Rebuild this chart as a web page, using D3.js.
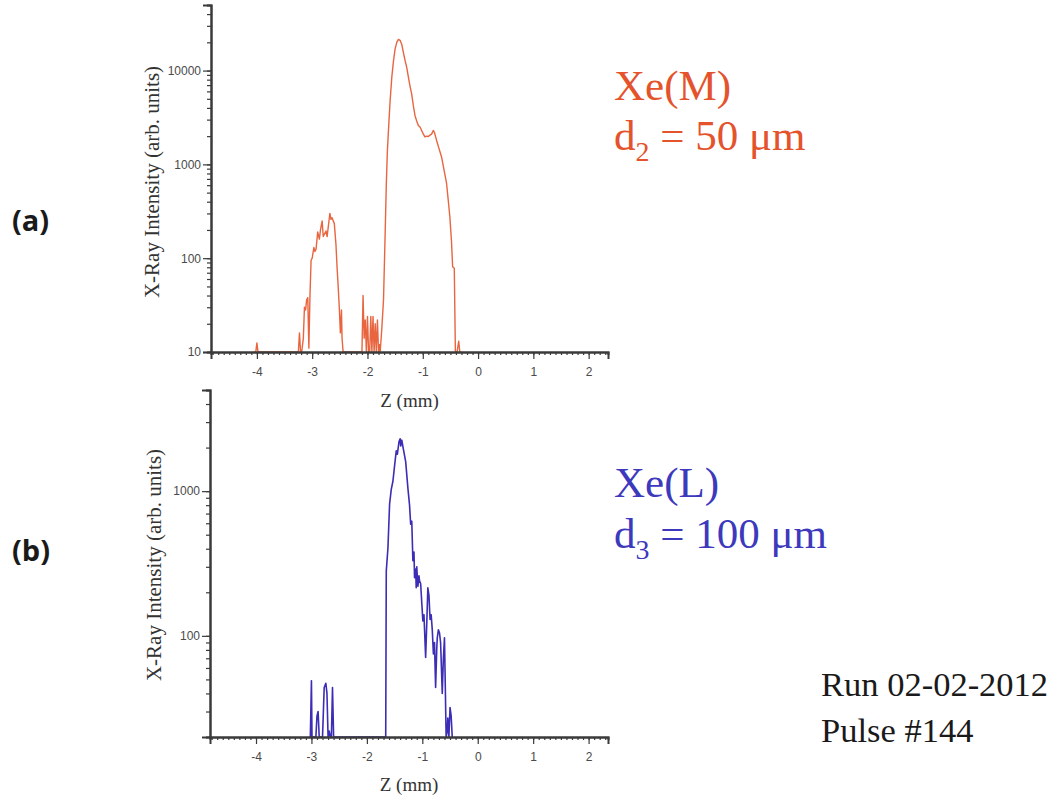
<!DOCTYPE html>
<html>
<head>
<meta charset="utf-8">
<script src="https://cdn.jsdelivr.net/npm/d3@7"></script>
<style>
  html, body { margin: 0; padding: 0; background: #ffffff; }
  svg { display: block; }
</style>
</head>
<body>
<svg id="chart" width="1055" height="798"></svg>
<script>
// ---------- DATA ----------
// Panel (a): Xe(M), d2 = 50 um
const zA = [-4.05, -4.02, -4.00, -3.98, -3.25, -3.23, -3.21, -3.19, -3.16, -3.14, -3.12, -3.10, -3.08, -3.06, -3.04, -3.02, -3.00, -2.97, -2.95, -2.93, -2.90, -2.87, -2.85, -2.82, -2.80, -2.78, -2.75, -2.73, -2.70, -2.68, -2.66, -2.64, -2.62, -2.60, -2.57, -2.55, -2.53, -2.51, -2.49, -2.47, -2.46, -2.44,
  -2.12, -2.10, -2.08, -2.06, -2.04, -2.02, -2.00, -1.98, -1.96, -1.94, -1.92, -1.90, -1.88, -1.86, -1.84, -1.82, -1.80, -1.78,
  -1.77, -1.74, -1.71, -1.68, -1.66, -1.64, -1.61, -1.59, -1.56, -1.53, -1.50, -1.47, -1.44, -1.41, -1.38, -1.35, -1.32, -1.29, -1.26, -1.23, -1.20, -1.17, -1.14, -1.11, -1.08, -1.05, -1.02, -0.99, -0.96, -0.93, -0.90, -0.87, -0.84, -0.81, -0.79, -0.75, -0.71, -0.66, -0.62, -0.57, -0.54, -0.51, -0.48, -0.46, -0.43, -0.41, -0.38, -0.35, -0.33, -0.30];
const valA = [10, 10, 12.5, 10, 10, 16, 10, 10, 14, 30, 28, 36, 38, 11, 40, 95, 100, 130, 118, 125, 190, 160, 200, 250, 170, 180, 195, 170, 240, 300, 260, 270, 250, 235, 140, 80, 50, 30, 16, 28, 14, 10,
  10, 10, 40, 14, 22, 10, 24, 10, 10, 24, 10, 24, 10, 20, 10, 22, 10, 12,
  10, 18, 36, 186, 600, 1400, 3000, 4800, 8500, 12600, 17000, 20000, 21500, 21000, 19000, 15500, 12800, 10800, 8500, 6800, 5600, 4200, 3300, 2900, 2600, 2500, 2300, 2100, 1960, 2000, 1980, 2050, 2100, 2300, 2200, 1800, 1500, 1200, 900, 630, 420, 275, 150, 81, 78, 10, 10, 13, 10, 10];

// Panel (b): Xe(L), d3 = 100 um
const zB = [-3.02, -3.00, -2.99, -2.92, -2.90, -2.88, -2.86, -2.80, -2.77, -2.74, -2.72, -2.70, -2.68, -2.66, -2.64, -2.62, -2.60, -2.58,
  -1.68, -1.66, -1.65, -1.62, -1.59, -1.56, -1.53, -1.50, -1.47, -1.45, -1.42, -1.40, -1.39, -1.37, -1.35, -1.30, -1.26, -1.23, -1.21, -1.19, -1.17, -1.15, -1.14, -1.12, -1.11, -1.10, -1.08, -1.06, -1.05, -1.03, -1.01, -0.99, -0.97, -0.955, -0.94, -0.92, -0.90, -0.88, -0.86, -0.84, -0.82, -0.80, -0.78, -0.76, -0.74, -0.73, -0.71, -0.69, -0.67, -0.64, -0.62, -0.60, -0.57, -0.55, -0.54, -0.52, -0.50, -0.48, -0.46];
const valB = [20, 49, 20, 20, 28, 30, 20, 20, 44, 47, 40, 20, 22, 20, 20, 44, 20, 20,
  20, 20, 280, 405, 815, 1030, 1170, 1500, 1900, 1800, 2200, 2300, 2050, 2250, 2030, 1600, 1050, 800, 590, 620, 330, 380, 252, 290, 215, 300, 220, 260, 240, 230, 170, 127, 140, 100, 71, 120, 215, 190, 130, 140, 110, 75, 90, 44, 80, 97, 110, 105, 90, 40, 70, 97, 20, 22, 27, 20, 32, 28, 20];

const xMajorTicks = [-4, -3, -2, -1, 0, 1, 2];
const xTickLabels = ["-4", "-3", "-2", "-1", "0", "1", "2"];
const yTicksA = [10, 100, 1000, 10000];
const yTicksB = [100, 1000];
const xDomain = [-4.83, 2.35];
const yDomainA = [10, 50000];
const yDomainB = [20, 5000];

// ---------- DRAW ----------
const svg = d3.select("#chart");
const axisColor = "#3a3a3a";

function minorLogTicks(lo, hi) {
  const out = [];
  for (let d = Math.floor(Math.log10(lo)); d <= Math.ceil(Math.log10(hi)); d++) {
    for (let m = 1; m <= 9; m++) {
      const v = m * Math.pow(10, d);
      if (v >= lo - 1e-9 && v <= hi + 1e-9) out.push(v);
    }
  }
  return out;
}
const xMinor = d3.range(-48, 24).map(i => i / 10);

function panel(cfg) {
  const x = d3.scaleLinear().domain(xDomain).range([cfg.left, cfg.right]);
  const y = d3.scaleLog().domain(cfg.yDomain).range([cfg.bottom, cfg.top]);
  const g = svg.append("g");

  const pts = cfg.z.map((z, i) => [z, Math.max(cfg.yDomain[0], cfg.v[i])]);
  const line = d3.line().x(d => x(d[0])).y(d => y(d[1]));
  g.append("path").datum(pts)
    .attr("d", line)
    .attr("fill", "none")
    .attr("stroke", cfg.color)
    .attr("stroke-width", cfg.lw)
    .attr("stroke-linejoin", "round");

  const xMin = g.append("g").attr("transform", `translate(0,${cfg.bottom})`)
    .call(d3.axisBottom(x).tickValues(xMinor.filter(t => t >= xDomain[0] && t <= xDomain[1])).tickSize(3).tickFormat(""));
  const xMaj = g.append("g").attr("transform", `translate(0,${cfg.bottom})`)
    .call(d3.axisBottom(x).tickValues(xMajorTicks).tickSize(7).tickPadding(8)
      .tickFormat((d, i) => xTickLabels[i]));
  const yMin = g.append("g").attr("transform", `translate(${cfg.left},0)`)
    .call(d3.axisLeft(y).tickValues(minorLogTicks(cfg.yDomain[0], cfg.yDomain[1])).tickSize(4).tickFormat(""));
  const yMaj = g.append("g").attr("transform", `translate(${cfg.left},0)`)
    .call(d3.axisLeft(y).tickValues(cfg.yTicks).tickSize(8).tickPadding(2).tickFormat(d => String(d)));

  [xMin, xMaj, yMin, yMaj].forEach(a => {
    a.selectAll("path.domain").attr("stroke", axisColor).attr("stroke-width", 2);
    a.selectAll(".tick line").attr("stroke", axisColor).attr("stroke-width", 1.2);
    a.selectAll("text").attr("fill", "#4a4a4a").style("font-family", "'Liberation Sans', Arial, sans-serif").style("font-size", "12px");
  });

  g.append("text")
    .attr("x", (cfg.left + cfg.right) / 2).attr("y", cfg.xLabelY)
    .attr("text-anchor", "middle")
    .style("font-family", "'Liberation Serif', 'Times New Roman', serif")
    .style("font-size", "19px").attr("fill", "#333")
    .text("Z (mm)");

  g.append("text")
    .attr("transform", `translate(${cfg.yLabelX},${cfg.yLabelY}) rotate(-90)`)
    .attr("text-anchor", "middle").attr("dominant-baseline", "central")
    .style("font-family", "'Liberation Serif', 'Times New Roman', serif")
    .style("font-size", "21px").attr("fill", "#333")
    .text("X-Ray Intensity (arb. units)");
}

panel({ z: zA, v: valA, yDomain: yDomainA, yTicks: yTicksA, left: 211, right: 608, top: 5, bottom: 352,
        color: "#e8653f", lw: 1.4, xLabelY: 407, yLabelX: 152, yLabelY: 182 });
panel({ z: zB, v: valB, yDomain: yDomainB, yTicks: yTicksB, left: 210, right: 608, top: 390, bottom: 737,
        color: "#3b2db5", lw: 1.6, xLabelY: 791, yLabelX: 154, yLabelY: 565 });

// panel letters
const letter = (t, yy) => svg.append("text").attr("x", 12).attr("y", yy)
  .style("font-family", "'Open Sans', 'Liberation Sans', sans-serif").style("font-weight", "bold")
  .style("font-size", "29px").attr("fill", "#1a1a1a").text(t);
letter("(a)", 231);
letter("(b)", 561);

// annotations
function annot(lines, color, x, y0, dy, size) {
  lines.forEach((ln, i) => {
    const t = svg.append("text").attr("x", x).attr("y", y0 + i * dy)
      .style("font-family", "'Liberation Serif', 'Times New Roman', serif")
      .style("font-size", size + "px").attr("fill", color);
    if (Array.isArray(ln)) {
      t.append("tspan").text(ln[0]);
      t.append("tspan").attr("dy", size * 0.25).style("font-size", (size * 0.65) + "px").text(ln[1]);
      t.append("tspan").attr("dy", -size * 0.25).text(ln[2]);
    } else t.text(ln);
  });
}
annot(["Xe(M)", ["d", "2", " = 50 μm"]], "#e4532c", 614, 100, 50, 43);
annot(["Xe(L)", ["d", "3", " = 100 μm"]], "#3d39bd", 614, 497, 51, 43);
annot(["Run 02-02-2012", "Pulse #144"], "#1a1a1a", 821, 696, 46, 34.5);
</script>
</body>
</html>
